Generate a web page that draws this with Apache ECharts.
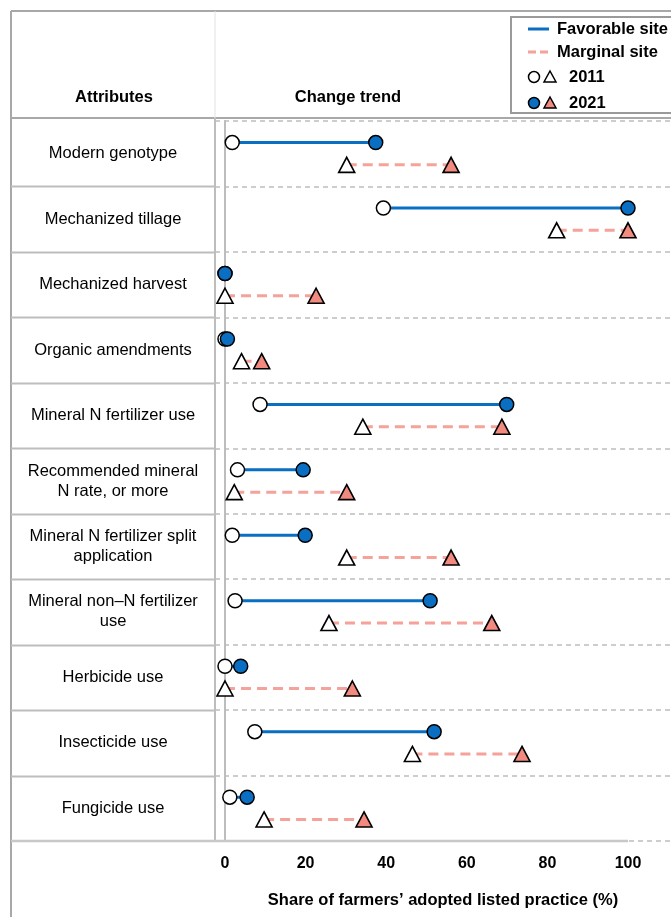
<!DOCTYPE html>
<html><head><meta charset="utf-8">
<script src="https://cdn.jsdelivr.net/npm/echarts@6/dist/echarts.min.js"></script>
<style>html,body{margin:0;padding:0;background:#fff}#c{width:671px;height:917px}</style>
</head><body><div id="c"></div>
<script>
const attributes = ['Modern genotype','Mechanized tillage','Mechanized harvest','Organic amendments','Mineral N fertilizer use','Recommended mineral\nN rate, or more','Mineral N fertilizer split\napplication','Mineral non\u2013N fertilizer\nuse','Herbicide use','Insecticide use','Fungicide use'];
const favorable2011 = [1.8, 39.3, 0, 0, 8.7, 3.1, 1.8, 2.5, 0, 7.4, 1.2];
const favorable2021 = [37.4, 100, 0, 0.6, 69.9, 19.4, 19.9, 50.9, 3.9, 51.9, 5.5];
const marginal2011 = [30.2, 82.3, 0, 4.1, 34.2, 2.3, 30.2, 25.8, 0, 46.5, 9.7];
const marginal2021 = [56.1, 100, 22.6, 9.1, 68.7, 30.2, 56.1, 66.2, 31.6, 73.7, 34.5];
const xTicks = [0, 20, 40, 60, 80, 100];
const legendNames = ['Favorable site', 'Marginal site', '2011', '2021'];

const FONT = 'Liberation Sans, Arial, Helvetica, sans-serif';
const BLUE = '#0a6fc2';
const PINK = '#f5a29a';
const SALMON = '#f28a7f';
const GRID_C = '#bdbdbd';

const FAV_OFF = 0.33, MAR_OFF = 0.67;
function segs(a, b, off) {
  const out = [];
  a.forEach((v, i) => { out.push([v, i + off]); out.push([b[i], i + off]); out.push(['-', '-']); });
  return out;
}
function pts(a, off) { return a.map((v, i) => [v, i + off]); }

const chart = echarts.init(document.getElementById('c'), null, {renderer: 'canvas'});
const option = {
  animation: false,
  backgroundColor: '#fff',
  textStyle: {fontFamily: FONT},
  grid: {left: 215, right: 0, top: 121, bottom: 76, containLabel: false},
  xAxis: {
    type: 'value', min: -2.48, max: 110.67,
    axisLine: {show: false, onZero: false},
    axisTick: {show: false},
    splitLine: {show: false},
    axisLabel: {customValues: xTicks, fontWeight: 'bold', fontSize: 16, color: '#000', margin: 15, fontFamily: FONT},
    name: 'Share of farmers\u2019 adopted listed practice (%)',
    nameLocation: 'middle', nameGap: 51,
    nameTextStyle: {fontWeight: 'bold', fontSize: 16.5, color: '#000', fontFamily: FONT}
  },
  yAxis: [{
    type: 'value', min: 0, max: 11, interval: 1, inverse: true, position: 'left',
    axisLine: {show: true, onZero: true, lineStyle: {color: GRID_C, width: 2}},
    axisTick: {show: false},
    axisLabel: {show: false},
    splitLine: {show: true, lineStyle: {color: GRID_C, width: 1.5, type: [5, 4]}}
  }, {
    type: 'category', data: attributes, inverse: true, position: 'left',
    axisLine: {show: false, onZero: false},
    axisTick: {show: false},
    splitLine: {show: false},
    axisLabel: {align: 'center', margin: 102, fontSize: 16.5, lineHeight: 20, color: '#000', fontFamily: FONT}
  }],
  series: [
    {name: legendNames[0], type: 'line', data: segs(favorable2011, favorable2021, FAV_OFF), symbol: 'none', connectNulls: false,
     lineStyle: {color: BLUE, width: 3}, z: 2},
    {name: legendNames[1], type: 'line', data: segs(marginal2011, marginal2021, MAR_OFF), symbol: 'none', connectNulls: false,
     lineStyle: {color: PINK, width: 3, type: [10, 6]}, z: 2},
    {name: legendNames[2] + ' favorable', type: 'scatter', data: pts(favorable2011, FAV_OFF), symbol: 'circle', symbolSize: 14,
     itemStyle: {color: '#fff', borderColor: '#000', borderWidth: 1.5, opacity: 1}, z: 3},
    {name: legendNames[3] + ' favorable', type: 'scatter', data: pts(favorable2021, FAV_OFF), symbol: 'circle', symbolSize: 14,
     itemStyle: {color: BLUE, borderColor: '#000', borderWidth: 1.5, opacity: 1}, z: 4},
    {name: legendNames[2] + ' marginal', type: 'scatter', data: pts(marginal2011, MAR_OFF), symbol: 'triangle', symbolSize: [16, 15],
     itemStyle: {color: '#fff', borderColor: '#000', borderWidth: 1.6, opacity: 1}, z: 3},
    {name: legendNames[3] + ' marginal', type: 'scatter', data: pts(marginal2021, MAR_OFF), symbol: 'triangle', symbolSize: [16, 15],
     itemStyle: {color: SALMON, borderColor: '#000', borderWidth: 1.6, opacity: 1}, z: 4}
  ]
};
chart.setOption(option);

// table frame, derived from the axes
const yPix = v => chart.convertToPixel({yAxisIndex: 0}, v);
const xPix = v => chart.convertToPixel({xAxisIndex: 0}, v);
const W = 671, H = 917, L = 11, T = 11, HB = 118, DIV = 215;
const frame = [];
const ln = (x1, y1, x2, y2, stroke, w, z) => ({type: 'line', shape: {x1, y1, x2, y2}, style: {stroke, lineWidth: w}, z: z || 10, silent: true});
frame.push(ln(L, T, W, T, '#a8a8a8', 2));
frame.push(ln(L, T, L, H, '#a8a8a8', 2));
frame.push(ln(L, HB, W, HB, '#a8a8a8', 2));
frame.push(ln(DIV, T, DIV, HB, '#e2e2e2', 1));
const yBottom = yPix(attributes.length);
frame.push(ln(DIV, HB, DIV, yBottom, GRID_C, 2));
for (let i = 1; i < attributes.length; i++) {
  const y = Math.round(yPix(i)) + 0.5;
  frame.push(ln(L, y, DIV, y, GRID_C, 2));
}
frame.push(ln(L, yBottom, xPix(100), yBottom, '#c8c8c8', 2.5, 11));
const txt = (x, y, text, opts) => Object.assign({type: 'text', x, y, style: Object.assign({text, fill: '#000', font: 'bold 16.5px ' + FONT, textAlign: 'center', textVerticalAlign: 'middle'}, opts || {}), z: 12, silent: true});
frame.push(txt(114, 97, 'Attributes'));
frame.push(txt(348, 97, 'Change trend'));

// legend box
const LX = 511, LY = 17;
frame.push({type: 'rect', shape: {x: LX, y: LY, width: 200, height: 96}, style: {fill: '#fff', stroke: '#9a9a9a', lineWidth: 2}, z: 20});
const rowsY = [29, 52, 77, 103];
frame.push({type: 'line', shape: {x1: 528, y1: rowsY[0], x2: 549, y2: rowsY[0]}, style: {stroke: BLUE, lineWidth: 3}, z: 21});
frame.push({type: 'line', shape: {x1: 528, y1: rowsY[1], x2: 549, y2: rowsY[1]}, style: {stroke: PINK, lineWidth: 3, lineDash: [8, 4]}, z: 21});
frame.push({type: 'circle', shape: {cx: 534, cy: rowsY[2], r: 5.5}, style: {fill: '#fff', stroke: '#000', lineWidth: 1.5}, z: 21});
frame.push({type: 'polygon', shape: {points: [[550, rowsY[2] - 6], [556, rowsY[2] + 5], [544, rowsY[2] + 5]]}, style: {fill: '#fff', stroke: '#000', lineWidth: 1.5}, z: 21});
frame.push({type: 'circle', shape: {cx: 534, cy: rowsY[3], r: 5.5}, style: {fill: BLUE, stroke: '#000', lineWidth: 1.5}, z: 21});
frame.push({type: 'polygon', shape: {points: [[550, rowsY[3] - 6], [556, rowsY[3] + 5], [544, rowsY[3] + 5]]}, style: {fill: SALMON, stroke: '#000', lineWidth: 1.5}, z: 21});
const ltxt = (x, y, t) => ({type: 'text', x, y, style: {text: t, fill: '#000', font: 'bold 16.5px ' + FONT, textAlign: 'left', textVerticalAlign: 'middle'}, z: 22});
frame.push(ltxt(557, rowsY[0], legendNames[0]));
frame.push(ltxt(557, rowsY[1], legendNames[1]));
frame.push(ltxt(569, rowsY[2], legendNames[2]));
frame.push(ltxt(569, rowsY[3], legendNames[3]));

chart.setOption({graphic: {elements: frame}});
</script>
</body></html>
